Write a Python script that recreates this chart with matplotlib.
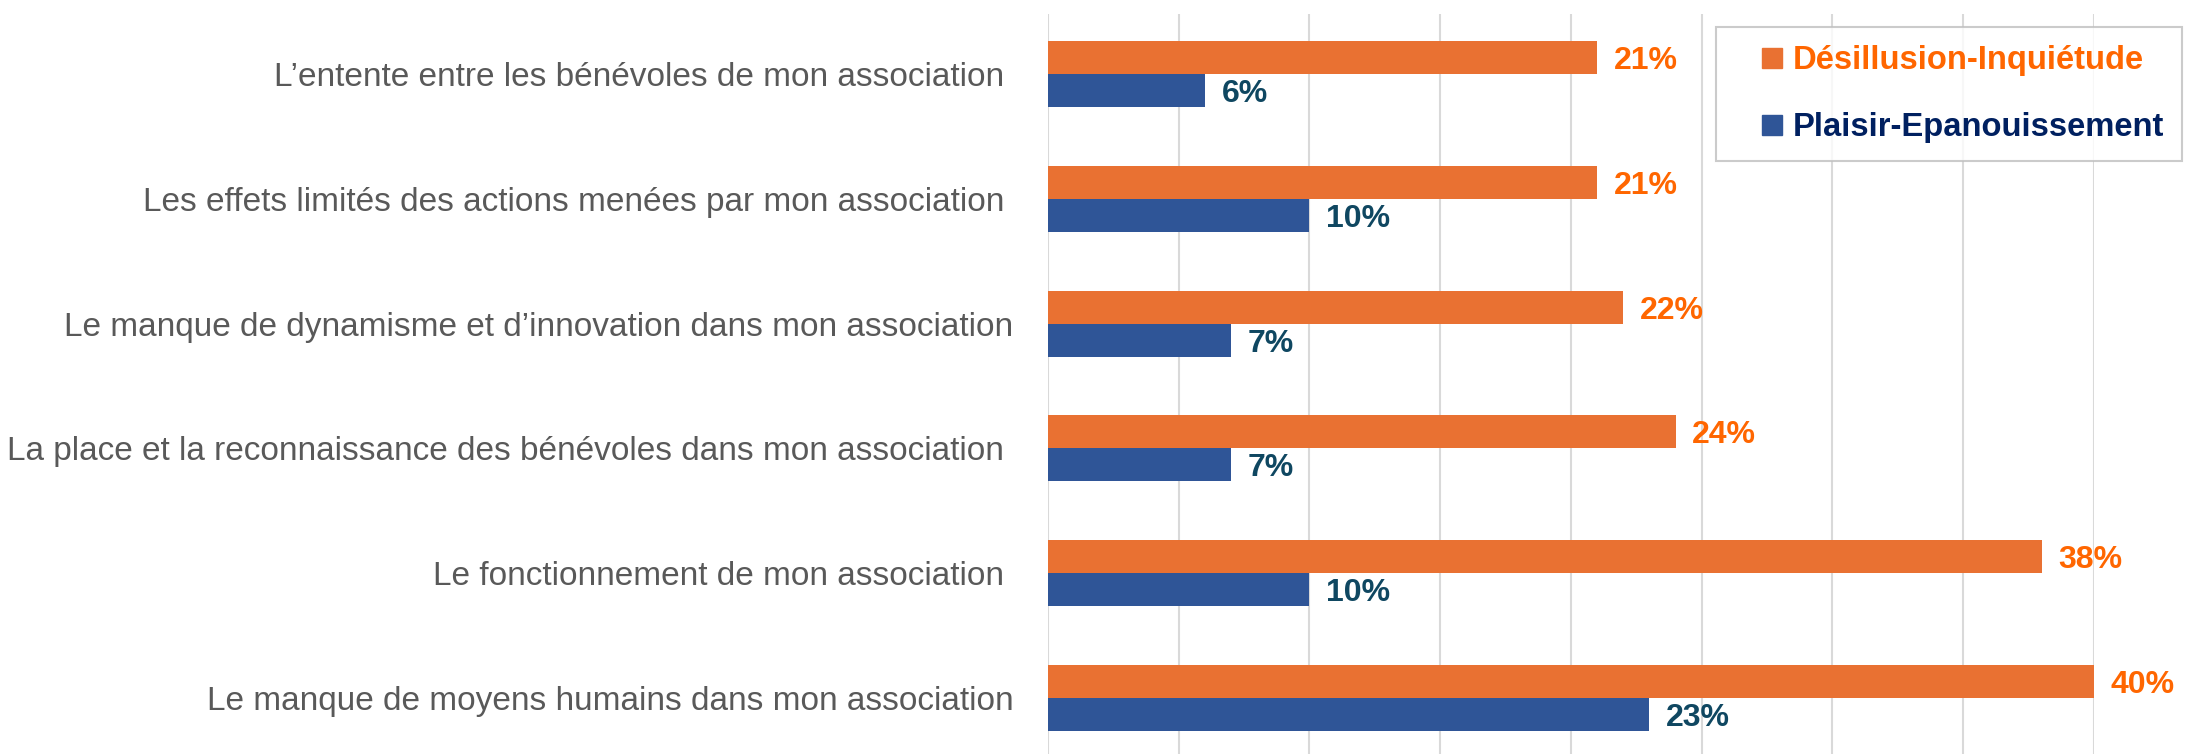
import numpy as np
import matplotlib
matplotlib.use("Agg")
from matplotlib import pyplot as plt
from matplotlib.lines import Line2D

# Data
categories = [
    "L\u2019entente entre les bénévoles de mon association ",
    "Les effets limités des actions menées par mon association ",
    "Le manque de dynamisme et d\u2019innovation dans mon association",
    "La place et la reconnaissance des bénévoles dans mon association ",
    "Le fonctionnement de mon association ",
    "Le manque de moyens humains dans mon association",
]
desillusion = [21, 21, 22, 24, 38, 40]
plaisir = [6, 10, 7, 7, 10, 23]
series_names = ["Désillusion-Inquiétude", "Plaisir-Epanouissement"]

# Colors
orange_bar = "#E97132"
blue_bar = "#2F5597"
orange_txt = "#FF6600"
blue_txt = "#0F4761"
navy_txt = "#002060"
label_gray = "#595959"
grid_gray = "#D9D9D9"

plt.rcParams['font.family'] = ['Liberation Sans', 'DejaVu Sans']

fig = plt.figure(figsize=(22.03, 7.56), dpi=100)
ax = fig.add_axes([0.4757, 0.003, 0.4748, 0.9785])

y = np.arange(len(categories))
h = 0.265

bars_o = ax.barh(y - h / 2, desillusion, height=h, color=orange_bar, zorder=2)
bars_b = ax.barh(y + h / 2, plaisir, height=h, color=blue_bar, zorder=2)

ax.set_xlim(0, 40)
ax.set_ylim(5.45, -0.485)
ax.set_xticks(np.arange(0, 41, 5))
ax.xaxis.grid(True, color=grid_gray, linewidth=1.5, zorder=0)
ax.tick_params(axis='x', which='both', bottom=False, labelbottom=False)
ax.tick_params(axis='y', length=0, pad=25)
ax.set_yticks(y)
ax.set_yticklabels(categories, fontsize=24, color=label_gray)
for s in ax.spines.values():
    s.set_visible(False)

# Value labels
for bars, vals, col in [(bars_o, desillusion, orange_txt), (bars_b, plaisir, blue_txt)]:
    for bar, v in zip(bars, vals):
        ax.annotate(f"{v}%", (v, bar.get_y() + bar.get_height() / 2),
                    xytext=(12, 0), textcoords='offset points', va='center_baseline', ha='left',
                    fontsize=23, fontweight='bold', color=col, annotation_clip=False)

# Legend
handles = [Line2D([], [], marker='s', linestyle='none', markersize=15, color=orange_bar),
           Line2D([], [], marker='s', linestyle='none', markersize=15, color=blue_bar)]
leg = fig.legend(handles, series_names, loc='upper left',
                 bbox_to_anchor=(1716 / 2203, 1 - 27 / 756),
                 fontsize=23.6, frameon=True, fancybox=False, edgecolor="#BFBFBF",
                 handlelength=2.3, handletextpad=-0.5,
                 labelspacing=1.1, borderpad=0.55, borderaxespad=0)
leg.get_frame().set_linewidth(1.5)
for t, c in zip(leg.get_texts(), [orange_txt, navy_txt]):
    t.set_color(c)
    t.set_fontweight('bold')

fig.savefig("out.png", dpi=100)
